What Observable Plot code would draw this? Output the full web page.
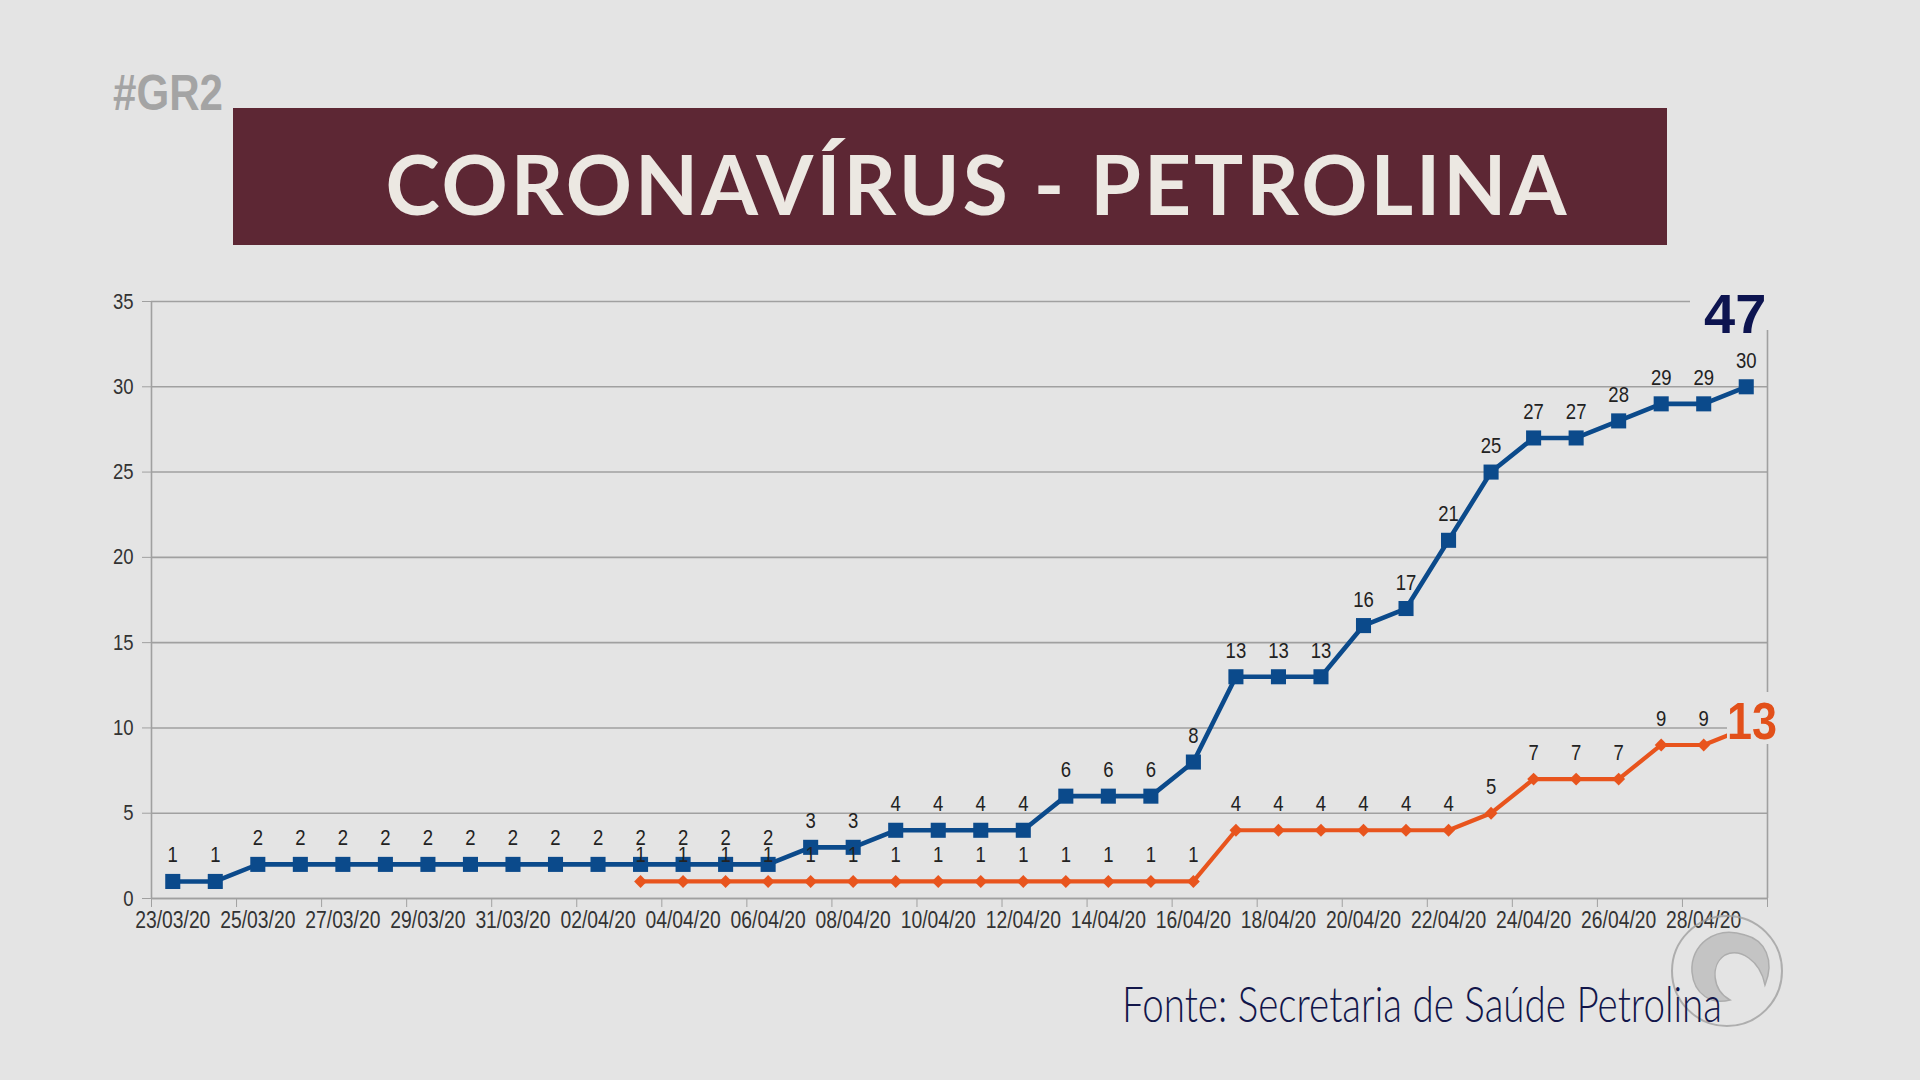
<!DOCTYPE html>
<html>
<head>
<meta charset="utf-8">
<script src="https://cdn.jsdelivr.net/npm/d3@7"></script>
<script src="https://cdn.jsdelivr.net/npm/@observablehq/plot@0.6"></script>
<style>
  html, body { margin: 0; padding: 0; background: #e4e4e4; }
  #stage { position: relative; width: 1920px; height: 1080px; overflow: hidden; background: #e4e4e4; }
  #chart, #overlay { position: absolute; left: 0; top: 0; }
  #overlay { pointer-events: none; }
</style>
</head>
<body>
<div id="stage">
  <div id="chart"></div>
  <svg id="overlay" width="1920" height="1080" viewBox="0 0 1920 1080">
    <text x="113" y="110" font-family="'Liberation Sans', Arial, sans-serif" font-weight="700" font-size="50" fill="#a4a4a4" textLength="110" lengthAdjust="spacingAndGlyphs">#GR2</text>
    <rect x="233" y="108" width="1434" height="137" fill="#5d2734"></rect>
    <text x="976" y="215" text-anchor="middle" font-family="Lato, 'Open Sans', sans-serif" font-weight="700" font-size="82" fill="#ece8e2" textLength="1181" lengthAdjust="spacing">CORONAVÍRUS - PETROLINA</text>
    <rect x="1690" y="278" width="110" height="52" fill="#e4e4e4"></rect>
    <text x="1704" y="333" font-family="'Liberation Sans', Arial, sans-serif" font-weight="700" font-size="56" fill="#0d1450">47</text>
    <rect x="1727" y="692" width="62" height="52" fill="#e4e4e4"></rect>
    <text x="1727" y="739" font-family="'Liberation Sans', Arial, sans-serif" font-weight="700" font-size="52" fill="#e2501a" textLength="50" lengthAdjust="spacingAndGlyphs">13</text>
    <g opacity="0.8">
      <circle cx="1727" cy="971" r="55" fill="none" stroke="#a0a0a0" stroke-width="2"></circle>
      <path d="M 1745 935 C 1715 925, 1690 945, 1692 972 C 1694 995, 1712 1005, 1730 1000 C 1712 990, 1710 965, 1725 955 C 1740 948, 1760 960, 1765 985 C 1775 960, 1765 940, 1745 935 Z" fill="#bdbdbd" stroke="#a0a0a0" stroke-width="1.5"></path>
    </g>
    <text x="1122" y="1022" font-family="Lato, 'Open Sans', sans-serif" font-weight="300" font-size="50" fill="#12164a" textLength="600" lengthAdjust="spacingAndGlyphs">Fonte: Secretaria de Saúde Petrolina</text>
  </svg>
</div>
<script>
const dates = ["23/03/20","24/03/20","25/03/20","26/03/20","27/03/20","28/03/20","29/03/20","30/03/20","31/03/20",
  "01/04/20","02/04/20","03/04/20","04/04/20","05/04/20","06/04/20","07/04/20","08/04/20","09/04/20","10/04/20",
  "11/04/20","12/04/20","13/04/20","14/04/20","15/04/20","16/04/20","17/04/20","18/04/20","19/04/20","20/04/20",
  "21/04/20","22/04/20","23/04/20","24/04/20","25/04/20","26/04/20","27/04/20","28/04/20","29/04/20"];
const confirmed = [1,1,2,2,2,2,2,2,2,2,2,2,2,2,2,3,3,4,4,4,4,6,6,6,8,13,13,13,16,17,21,25,27,27,28,29,29,30];
const recovered = [null,null,null,null,null,null,null,null,null,null,null,
  1,1,1,1,1,1,1,1,1,1,1,1,1,1,4,4,4,4,4,4,5,7,7,7,9,9,10];
const yTicks = [0,5,10,15,20,25,30,35];
const labelIdx = d3.range(0, 37, 2);          // every other day gets a date label
const boundaryTicks = d3.range(-0.5, 38, 2);   // tick marks between categories

const blue = "#0b4a8b";
const orange = "#e8541d";
const font = "'Liberation Sans', Arial, sans-serif";

const rows = dates.map((d, i) => ({i, date: d, confirmed: confirmed[i], recovered: recovered[i]}));
// the last recovered value label sits under the "13" callout in the reference
const recoveredLabelRows = rows.filter(d => d.i < dates.length - 1);

const chart = Plot.plot({
  width: 1920,
  height: 1080,
  marginLeft: 151,
  marginRight: 153,
  marginTop: 301,
  marginBottom: 182,
  x: {type: "linear", domain: [-0.5, 37.5]},
  y: {domain: [0, 35]},
  style: {background: "transparent", fontFamily: font, color: "#333"},
  marks: [
    Plot.gridY(yTicks, {stroke: "#a0a0a0", strokeOpacity: 1, strokeWidth: 1.6}),
    Plot.axisY({ticks: yTicks, tickSize: 9, tickPadding: 9, fontSize: 22, stroke: "#a0a0a0", fill: "#333", label: null}),
    Plot.ruleX([-0.5, 37.5], {stroke: "#a0a0a0", strokeWidth: 1.6}),
    Plot.ruleY([0], {stroke: "#a0a0a0", strokeWidth: 1.6}),
    Plot.axisX({ticks: boundaryTicks, tickSize: 9, tickFormat: () => "", stroke: "#a0a0a0", label: null}),
    Plot.axisX({ticks: labelIdx, tickSize: 0, tickPadding: 13, fontSize: 23, fill: "#333", tickFormat: i => dates[i], label: null}),
    Plot.line(rows, {x: "i", y: "recovered", stroke: orange, strokeWidth: 4.2}),
    Plot.line(rows, {x: "i", y: "confirmed", stroke: blue, strokeWidth: 4.6}),
    Plot.dot(rows, {x: "i", y: "recovered", symbol: "diamond2", r: 5.8, fill: orange}),
    Plot.dot(rows, {x: "i", y: "confirmed", symbol: "square", r: 8.5, fill: blue}),
    Plot.text(recoveredLabelRows, {x: "i", y: "recovered", text: "recovered", dy: -26, fontSize: 22, fill: "#222"}),
    Plot.text(rows, {x: "i", y: "confirmed", text: "confirmed", dy: -26, fontSize: 22, fill: "#222"})
  ]
});
document.getElementById("chart").appendChild(chart);

// narrow the chart's lettering, as in the reference (Arial Narrow–like)
chart.querySelectorAll("text").forEach(t => {
  if (!t.textContent) return;
  const w = t.getComputedTextLength();
  if (w > 0) {
    t.setAttribute("textLength", (w * 0.84).toFixed(1));
    t.setAttribute("lengthAdjust", "spacingAndGlyphs");
  }
});
</script>
</body>
</html>
